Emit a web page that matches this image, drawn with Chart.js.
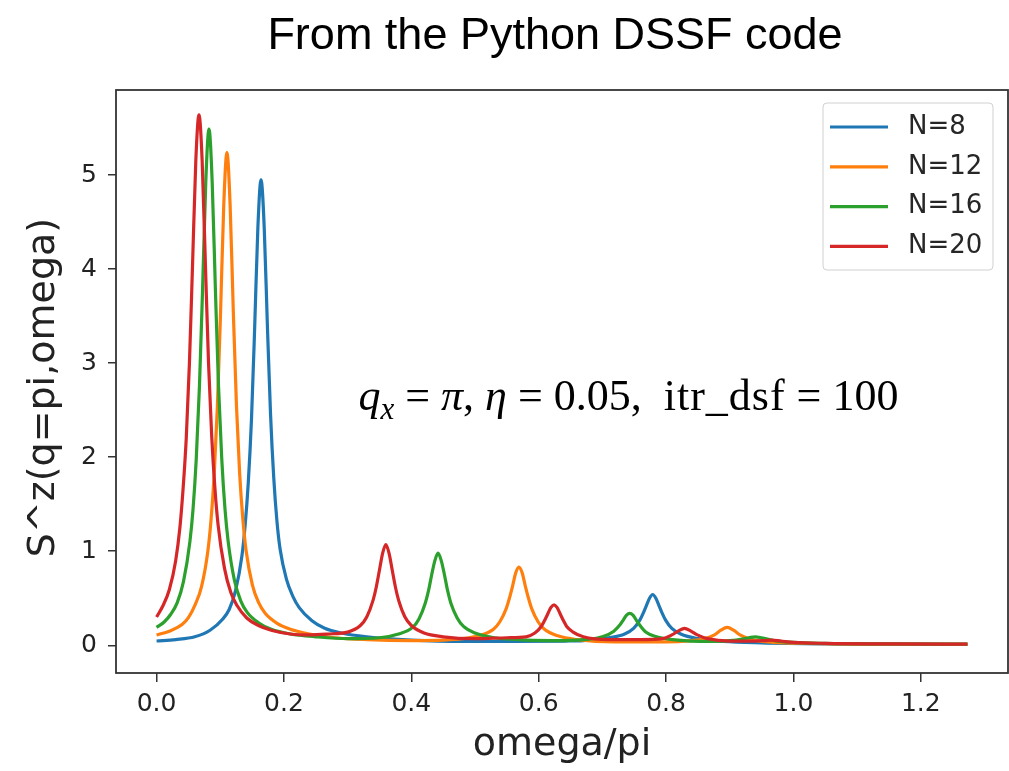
<!DOCTYPE html>
<html>
<head>
<meta charset="utf-8">
<title>From the Python DSSF code</title>
<script src="https://cdn.jsdelivr.net/npm/chart.js@4.4.1/dist/chart.umd.min.js"></script>
<style>
  html, body { margin: 0; padding: 0; background: #ffffff; }
  #wrap { width: 1009px; height: 771px; }
</style>
</head>
<body>
<div id="wrap"><canvas id="dssfChart" width="1009" height="771"></canvas></div>
<script>
// omega/pi samples and S^z(q=pi, omega)
const seriesLabels = ['N=8', 'N=12', 'N=16', 'N=20'];

const omegaN8 = [0, 0.03, 0.06, 0.084, 0.104, 0.114, 0.124, 0.134, 0.139, 0.144, 0.149, 0.154, 0.159, 0.164, 0.169, 0.174, 0.179, 0.184, 0.189, 0.194, 0.204, 0.214, 0.224, 0.244, 0.264, 0.29, 0.33, 0.4, 0.48, 0.56, 0.64, 0.67, 0.71, 0.735, 0.749, 0.759, 0.764, 0.769, 0.774, 0.779, 0.784, 0.789, 0.794, 0.799, 0.809, 0.823, 0.85, 0.89, 0.95, 1.05, 1.15, 1.2732];
const sN8 = [0.045, 0.06, 0.09, 0.16, 0.28, 0.38, 0.58, 0.95, 1.27, 1.73, 2.4, 3.37, 4.43, 4.95, 4.45, 3.4, 2.45, 1.78, 1.32, 1.02, 0.7, 0.52, 0.4, 0.26, 0.18, 0.13, 0.09, 0.055, 0.04, 0.04, 0.045, 0.05, 0.08, 0.12, 0.18, 0.27, 0.34, 0.42, 0.5, 0.54, 0.5, 0.42, 0.34, 0.27, 0.18, 0.12, 0.07, 0.04, 0.025, 0.015, 0.012, 0.01];

const omegaN12 = [0, 0.02, 0.04, 0.0505, 0.0605, 0.0705, 0.0805, 0.0855, 0.0905, 0.0955, 0.1005, 0.1055, 0.1105, 0.1155, 0.1205, 0.1255, 0.1305, 0.1355, 0.1405, 0.1505, 0.1605, 0.1705, 0.19, 0.21, 0.24, 0.28, 0.33, 0.4, 0.45, 0.48, 0.51, 0.529, 0.539, 0.549, 0.554, 0.559, 0.564, 0.569, 0.574, 0.579, 0.584, 0.589, 0.599, 0.609, 0.63, 0.66, 0.72, 0.8, 0.84, 0.86, 0.876, 0.886, 0.896, 0.906, 0.916, 0.935, 0.97, 1.02, 1.1, 1.2732];
const sN12 = [0.11, 0.15, 0.22, 0.3, 0.43, 0.62, 1.0, 1.33, 1.82, 2.54, 3.55, 4.68, 5.24, 4.68, 3.55, 2.54, 1.82, 1.34, 1.01, 0.64, 0.45, 0.34, 0.23, 0.17, 0.12, 0.08, 0.06, 0.05, 0.055, 0.07, 0.11, 0.17, 0.25, 0.39, 0.5, 0.63, 0.77, 0.83, 0.77, 0.63, 0.5, 0.39, 0.25, 0.17, 0.1, 0.06, 0.035, 0.035, 0.05, 0.07, 0.11, 0.16, 0.19, 0.16, 0.11, 0.06, 0.03, 0.02, 0.013, 0.01];

const omegaN16 = [0, 0.0123, 0.0223, 0.0323, 0.0423, 0.0523, 0.0573, 0.0623, 0.0673, 0.0723, 0.0773, 0.0823, 0.0873, 0.0923, 0.0973, 0.1023, 0.1073, 0.1123, 0.1223, 0.1323, 0.1423, 0.16, 0.18, 0.21, 0.25, 0.3, 0.35, 0.38, 0.402, 0.412, 0.422, 0.427, 0.432, 0.437, 0.442, 0.447, 0.452, 0.457, 0.462, 0.472, 0.482, 0.5, 0.53, 0.58, 0.64, 0.68, 0.70, 0.718, 0.728, 0.733, 0.738, 0.743, 0.748, 0.753, 0.758, 0.768, 0.785, 0.81, 0.87, 0.91, 0.93, 0.94, 0.95, 0.97, 1.0, 1.05, 1.15, 1.2732];
const sN16 = [0.19, 0.25, 0.33, 0.45, 0.68, 1.1, 1.45, 1.98, 2.75, 3.8, 4.93, 5.49, 4.93, 3.8, 2.75, 1.99, 1.46, 1.11, 0.69, 0.47, 0.35, 0.24, 0.17, 0.12, 0.09, 0.07, 0.08, 0.12, 0.19, 0.28, 0.45, 0.58, 0.75, 0.9, 0.98, 0.9, 0.75, 0.58, 0.45, 0.29, 0.2, 0.13, 0.08, 0.055, 0.05, 0.065, 0.09, 0.15, 0.22, 0.27, 0.32, 0.34, 0.32, 0.27, 0.22, 0.14, 0.09, 0.06, 0.04, 0.055, 0.08, 0.09, 0.08, 0.05, 0.03, 0.02, 0.015, 0.012];

const omegaN20 = [0, 0.01, 0.02, 0.03, 0.0366, 0.0416, 0.0466, 0.0516, 0.0566, 0.0616, 0.0666, 0.0716, 0.0766, 0.0816, 0.0866, 0.0916, 0.0966, 0.1066, 0.1166, 0.1266, 0.1416, 0.16, 0.18, 0.21, 0.24, 0.27, 0.3, 0.32, 0.33, 0.34, 0.345, 0.35, 0.355, 0.36, 0.365, 0.37, 0.375, 0.38, 0.39, 0.4, 0.42, 0.45, 0.5, 0.55, 0.58, 0.594, 0.604, 0.609, 0.614, 0.619, 0.624, 0.629, 0.634, 0.639, 0.644, 0.654, 0.67, 0.71, 0.76, 0.795, 0.809, 0.819, 0.829, 0.839, 0.849, 0.865, 0.9, 0.94, 0.955, 0.966, 0.98, 1.0, 1.05, 1.15, 1.2732];
const sN20 = [0.3, 0.42, 0.59, 0.9, 1.25, 1.66, 2.2, 3.0, 4.07, 5.15, 5.64, 5.15, 4.07, 3.0, 2.22, 1.67, 1.28, 0.82, 0.56, 0.42, 0.29, 0.21, 0.16, 0.12, 0.11, 0.12, 0.14, 0.21, 0.3, 0.48, 0.62, 0.8, 0.98, 1.07, 0.98, 0.8, 0.62, 0.48, 0.3, 0.21, 0.13, 0.09, 0.07, 0.08, 0.09, 0.13, 0.2, 0.26, 0.33, 0.4, 0.43, 0.4, 0.33, 0.26, 0.2, 0.14, 0.09, 0.06, 0.06, 0.07, 0.11, 0.15, 0.18, 0.15, 0.11, 0.07, 0.045, 0.045, 0.05, 0.055, 0.045, 0.03, 0.02, 0.015, 0.012];

const figureTitle = 'From the Python DSSF code';
const xAxisTitle = 'omega/pi';
const yAxisTitle = 'S^z(q=pi,omega) ';

function toPoints(xs, ys) {
  return xs.map((x, i) => ({ x: x, y: ys[i] }));
}

// title, frame, legend box and the parameter note
const decorPlugin = {
  id: 'decor',
  afterDraw(chart) {
    const { ctx, chartArea: a, scales } = chart;
    ctx.save();

    ctx.strokeStyle = '#333333';
    ctx.lineWidth = 1.8;
    ctx.strokeRect(a.left, a.top, a.right - a.left, a.bottom - a.top);

    ctx.fillStyle = '#000000';
    ctx.font = '45px "Liberation Sans", Arial, sans-serif';
    ctx.textAlign = 'center';
    ctx.textBaseline = 'alphabetic';
    ctx.fillText(figureTitle, 555, 49);

    // legend in the upper right corner of the axes
    const boxW = 170, boxH = 167;
    const bx = a.right - 15 - boxW, by = a.top + 13;
    ctx.beginPath();
    ctx.roundRect(bx, by, boxW, boxH, 4);
    ctx.fillStyle = 'rgba(255,255,255,0.8)';
    ctx.fill();
    ctx.strokeStyle = '#d0d0d0';
    ctx.lineWidth = 1;
    ctx.stroke();
    ctx.font = '26px "DejaVu Sans", sans-serif';
    ctx.textAlign = 'left';
    ctx.textBaseline = 'middle';
    chart.data.datasets.forEach((ds, i) => {
      const ry = by + 24 + i * 39.8;
      ctx.strokeStyle = ds.borderColor;
      ctx.lineWidth = 3.2;
      ctx.beginPath();
      ctx.moveTo(bx + 7, ry);
      ctx.lineTo(bx + 65, ry);
      ctx.stroke();
      ctx.fillStyle = '#262626';
      ctx.fillText(ds.label, bx + 85, ry);
    });

    // q_x = pi, eta = 0.05, itr_dsf = 100
    let nx = scales.x.getPixelForValue(0.317);
    const ny = scales.y.getPixelForValue(2.5);
    const serif = '"Liberation Serif", "Times New Roman", serif';
    const parts = [
      { t: 'q', f: 'italic 44px ' + serif, dy: 0, ls: 0 },
      { t: 'x', f: 'italic 31px ' + serif, dy: 9, ls: 0 },
      { t: ' = ', f: '44px ' + serif, dy: 0, ls: 0 },
      { t: '\u03c0', f: 'italic 44px ' + serif, dy: 0, ls: 0 },
      { t: ', ', f: '44px ' + serif, dy: 0, ls: 0 },
      { t: '\u03b7', f: 'italic 44px ' + serif, dy: 0, ls: 0 },
      { t: ' = 0.05,  ', f: '44px ' + serif, dy: 0, ls: 0 },
      { t: 'itr_dsf', f: '44px ' + serif, dy: 0, ls: 1 },
      { t: ' = 100', f: '44px ' + serif, dy: 0, ls: 0 }
    ];
    ctx.fillStyle = '#000000';
    ctx.textBaseline = 'alphabetic';
    parts.forEach(p => {
      ctx.font = p.f;
      ctx.letterSpacing = p.ls + 'px';
      ctx.fillText(p.t, nx, ny + p.dy);
      nx += ctx.measureText(p.t).width;
    });
    ctx.letterSpacing = '0px';

    ctx.restore();
  }
};

document.addEventListener('DOMContentLoaded', () => {
  const ctx = document.getElementById('dssfChart').getContext('2d');
  const tickFont = { family: '"DejaVu Sans", sans-serif', size: 25 };
  const axisFont = { family: '"DejaVu Sans", sans-serif', size: 38 };

  new Chart(ctx, {
    type: 'line',
    data: {
      datasets: [
        { label: seriesLabels[0], data: toPoints(omegaN8, sN8), borderColor: '#1f77b4', order: 4 },
        { label: seriesLabels[1], data: toPoints(omegaN12, sN12), borderColor: '#ff7f0e', order: 3 },
        { label: seriesLabels[2], data: toPoints(omegaN16, sN16), borderColor: '#2ca02c', order: 2 },
        { label: seriesLabels[3], data: toPoints(omegaN20, sN20), borderColor: '#d62728', order: 1 }
      ]
    },
    options: {
      responsive: false,
      animation: false,
      events: [],
      layout: { padding: { top: 90, right: 1, left: 0, bottom: 0 } },
      elements: {
        line: { borderWidth: 3.2, cubicInterpolationMode: 'monotone', fill: false },
        point: { radius: 0 }
      },
      scales: {
        x: {
          type: 'linear',
          min: -0.0637,
          max: 1.3369,
          afterFit: (scale) => { scale.height = 98; },
          border: { display: false },
          grid: { drawOnChartArea: false, color: '#333333', lineWidth: 1.5, tickLength: 9 },
          ticks: {
            stepSize: 0.2,
            includeBounds: false,
            autoSkip: false,
            maxRotation: 0,
            padding: 7,
            color: '#222222',
            font: tickFont,
            callback: (v) => v.toFixed(1)
          },
          title: { display: true, text: xAxisTitle, color: '#222222', font: axisFont, padding: { top: 0, bottom: 3 } }
        },
        y: {
          min: -0.295,
          max: 5.905,
          afterFit: (scale) => { scale.width = 116; },
          border: { display: false },
          grid: { drawOnChartArea: false, color: '#333333', lineWidth: 1.5, tickLength: 8 },
          ticks: {
            stepSize: 1,
            includeBounds: false,
            autoSkip: false,
            padding: 11,
            color: '#222222',
            font: tickFont
          },
          title: { display: true, text: yAxisTitle, color: '#222222', font: axisFont, padding: { top: 21, bottom: 0 } }
        }
      },
      plugins: {
        legend: { display: false },
        tooltip: { enabled: false },
        title: { display: false }
      }
    },
    plugins: [decorPlugin]
  });
});
</script>
</body>
</html>
